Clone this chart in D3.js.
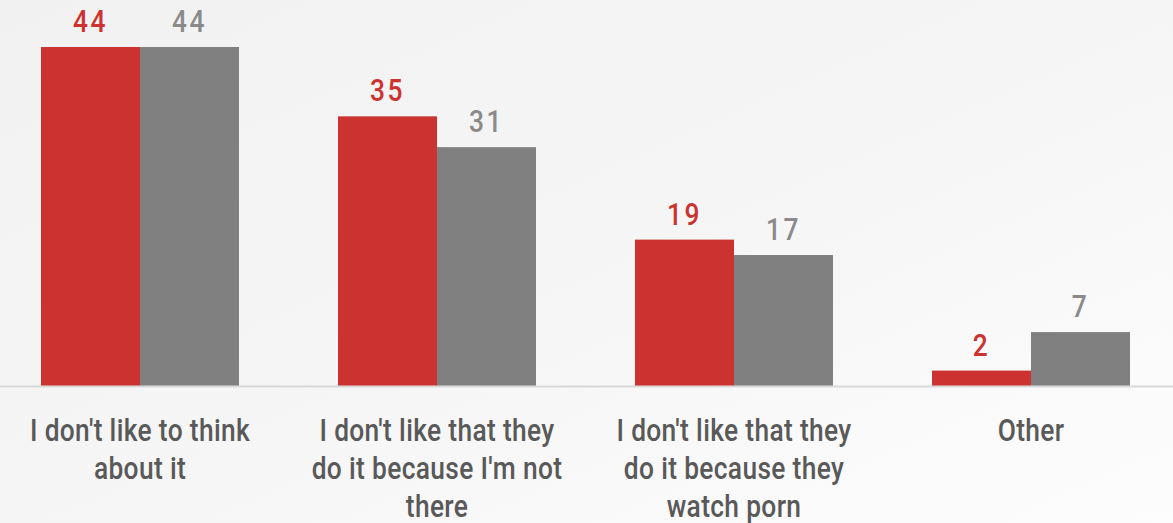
<!DOCTYPE html>
<html>
<head>
<meta charset="utf-8">
<script src="https://cdn.jsdelivr.net/npm/d3@7"></script>
<style>
html,body{margin:0;padding:0;overflow:hidden;}
svg{display:block;}
</style>
</head>
<body>
<svg id="chart" width="1173" height="523"></svg>
<script>
const categories = [
  "I don't like to think about it",
  "I don't like that they do it because I'm not there",
  "I don't like that they do it because they watch porn",
  "Other"
];
const seriesNames = ["Series A", "Series B"];
const seriesA = [44, 35, 19, 2];
const seriesB = [44, 31, 17, 7];
const colors = ["#cc3330", "#808080"];
const labelColors = ["#cc3330", "#8a8a8a"];

const W = 1173, H = 523;
const FONT = "Roboto, 'DejaVu Sans', sans-serif";
const SX = 0.85;
const svg = d3.select("#chart");
const defs = svg.append("defs");
const grad = defs.append("linearGradient").attr("id","bg")
  .attr("x1","0").attr("y1","0").attr("x2","1").attr("y2","1");
grad.append("stop").attr("offset","0").attr("stop-color","#f1f1f1");
grad.append("stop").attr("offset","0.55").attr("stop-color","#f6f6f6");
grad.append("stop").attr("offset","1").attr("stop-color","#fdfdfd");
svg.append("rect").attr("width",W).attr("height",H).attr("fill","url(#bg)");

const baseY = 386;
const x = d3.scaleBand().domain(categories).range([-8.5, 1179.5])
  .paddingInner(1/3).paddingOuter(1/6);
const xs = d3.scaleBand().domain(seriesNames).range([0, x.bandwidth()]);
const y = d3.scaleLinear().domain([0, 44]).range([baseY, 47]);

const data = categories.map((c,i)=>({cat:c, vals:[seriesA[i], seriesB[i]]}));

const g = svg.append("g");
const groups = g.selectAll("g.grp").data(data).join("g")
  .attr("transform", d=>`translate(${x(d.cat)},0)`);

groups.selectAll("rect").data(d=>d.vals.map((v,j)=>({v, s:seriesNames[j], j})))
  .join("rect")
  .attr("x", d=>xs(d.s))
  .attr("width", xs.bandwidth())
  .attr("y", d=>y(d.v))
  .attr("height", d=>baseY - y(d.v))
  .attr("fill", d=>colors[d.j]);

groups.selectAll("text.val").data(d=>d.vals.map((v,j)=>({v, s:seriesNames[j], j})))
  .join("text").attr("class","val")
  .attr("transform", d=>`translate(${xs(d.s) + xs.bandwidth()/2},${y(d.v) - 15}) scale(${SX},1)`)
  .attr("text-anchor","middle")
  .attr("font-family", FONT)
  .attr("font-weight", 500)
  .attr("font-size", 31)
  .attr("letter-spacing", 3)
  .attr("fill", d=>labelColors[d.j])
  .text(d=>d.v);

// axis baseline
const axis = d3.axisBottom(x).tickSize(0).tickFormat("");
const ax = svg.append("g").attr("transform",`translate(0,${baseY})`).call(axis);
ax.select(".domain").attr("d", `M0,0.5H${W}`).attr("stroke","#d9d9d9").attr("stroke-width",2);

// category labels with wrapping
const maxW = 258;
const lab = svg.append("g");
data.forEach(d=>{
  const cx = x(d.cat) + x.bandwidth()/2;
  const t = lab.append("text")
    .attr("transform", `translate(${cx},441) scale(${SX},1)`)
    .attr("text-anchor","middle")
    .attr("font-family", FONT)
    .attr("font-weight", 500)
    .attr("font-size", 31)
    .attr("letter-spacing", 0.4)
    .attr("fill","#595959");
  const words = d.cat.split(" ");
  let line = [];
  let ts = t.append("tspan").attr("x", 0).attr("dy",0);
  words.forEach(w=>{
    line.push(w);
    ts.text(line.join(" "));
    if (ts.node().getComputedTextLength()*SX > maxW && line.length>1){
      line.pop(); ts.text(line.join(" "));
      line=[w];
      ts = t.append("tspan").attr("x", 0).attr("dy",38).text(w);
    }
  });
});
</script>
</body>
</html>
